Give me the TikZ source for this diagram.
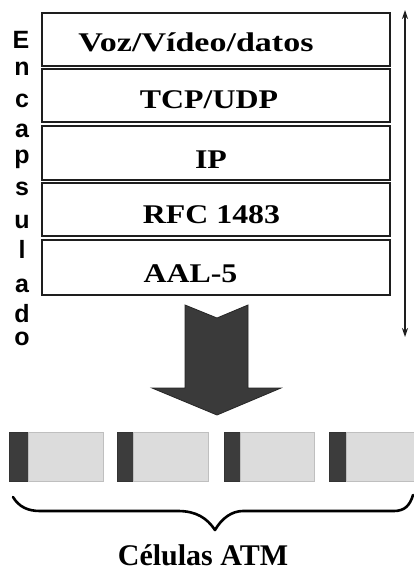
\documentclass[tikz,border=0pt]{standalone}
\usepackage{fontspec}
\usepackage{graphicx}
\setmainfont{Liberation Serif}
\newfontfamily\lsans{Liberation Sans}
\usetikzlibrary{arrows.meta}
\definecolor{boxline}{HTML}{1E1E1E}
\definecolor{arrowfill}{HTML}{3A3A3A}
\definecolor{cellhead}{HTML}{3C3C3C}
\definecolor{cellbody}{HTML}{DCDCDC}
\tikzset{
  layerbox/.style={draw=boxline, line width=2.6pt},
  layertext/.style={anchor=base, inner sep=0pt, font=\fontsize{27}{27}\selectfont\bfseries},
  sideletter/.style={anchor=base, inner sep=0pt, font=\lsans\fontsize{25}{25}\selectfont\bfseries},
  headcell/.style={fill=cellhead, draw=black!80, line width=0.6pt},
  bodycell/.style={fill=cellbody, draw=black!25, line width=0.6pt},
}
\begin{document}
\begin{tikzpicture}[x=1pt,y=-1pt]
\useasboundingbox (0,0) rectangle (414,576);
\fill[white] (0,0) rectangle (414,576);
% layer boxes
\draw[layerbox] (42,13) rectangle (390,66);
\draw[layerbox] (42,69) rectangle (390,122);
\draw[layerbox] (42,126) rectangle (390,180);
\draw[layerbox] (42,183) rectangle (390,236);
\draw[layerbox] (42,240) rectangle (390,295);
\node[layertext] (t1) at (196,51) {\scalebox{1.26}[1]{Voz/Vídeo/datos}};
\node[layertext] (t2) at (209,108) {\scalebox{1.18}[1]{TCP/UDP}};
\node[layertext] (t3) at (211,168) {\scalebox{1.18}[1]{IP}};
\node[layertext] (t4) at (211.5,223) {\scalebox{1.18}[1]{RFC 1483}};
\node[layertext] (t5) at (190.5,282) {\scalebox{1.18}[1]{AAL-5}};
% side letters
\node[sideletter] (l1) at (21,48) {E};
\node[sideletter] (l2) at (22,75) {n};
\node[sideletter] (l3) at (22,107) {c};
\node[sideletter] (l4) at (22,137) {a};
\node[sideletter] (l5) at (22,163) {p};
\node[sideletter] (l6) at (22,195) {s};
\node[sideletter] (l7) at (22,228) {u};
\node[sideletter] (l8) at (22,258) {l};
\node[sideletter] (l9) at (22,292) {a};
\node[sideletter] (l10) at (22,322) {d};
\node[sideletter] (l11) at (22,345) {o};
% double arrow at right
\coordinate (atop) at (405,10);
\coordinate (abot) at (405,337);
\draw[line width=1.3pt, boxline, {Stealth[length=9pt,width=6pt]}-{Stealth[length=9pt,width=6pt]}] (atop) -- (abot);
% big down arrow
\draw[fill=arrowfill, draw=black!85, line width=0.8pt, line join=miter]
  (185,305) -- (217,318) -- (248,305) -- (248,388) -- (281,388) -- (217,415)
  -- (152,388) -- (185,388) -- cycle;
% ATM cells
\draw[headcell] (9,432) rectangle (28,481);
\draw[bodycell] (28,432) rectangle (103,481);
\draw[headcell] (117,432) rectangle (133,481);
\draw[bodycell] (133,432) rectangle (208,481);
\draw[headcell] (224,432) rectangle (240,481);
\draw[bodycell] (240,432) rectangle (314,481);
\draw[headcell] (329,432) rectangle (346,481);
\draw[bodycell] (346,432) rectangle (415,481);
% brace
\draw[line width=2.6pt, line cap=round, line join=round]
  (13,497) .. controls (19,507) and (28,511) .. (40,511) -- (178,511)
  .. controls (196,511) and (207,518) .. (215,530)
  .. controls (222,518) and (232,511) .. (243,511) -- (394,511)
  .. controls (405,511) and (410,505) .. (413,495);
\node[anchor=base, inner sep=0pt, font=\fontsize{30}{30}\selectfont\bfseries] (cap) at (203,565) {Células ATM};
\end{tikzpicture}
\end{document}
